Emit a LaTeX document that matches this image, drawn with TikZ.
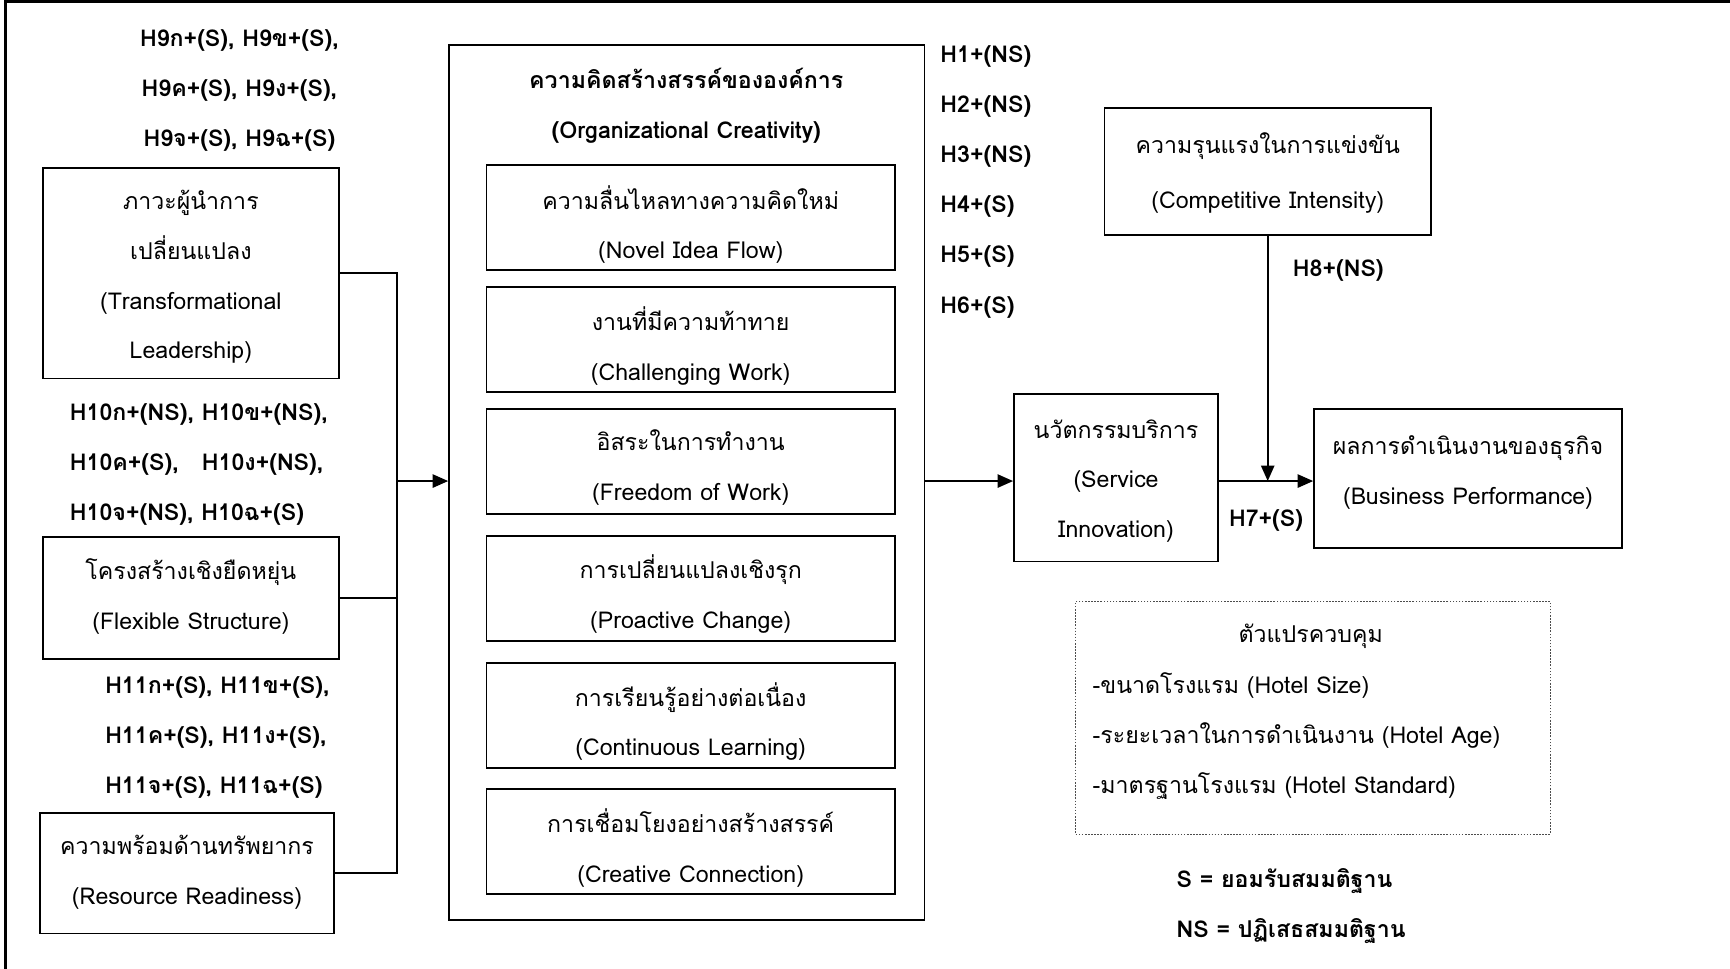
\documentclass[tikz,border=0pt]{standalone}
\usepackage{fontspec}
\setmainfont[Script=Thai]{Loma}
\usetikzlibrary{arrows.meta,calc}
\newcommand\bodyfont{\fontsize{10.5}{22.6}\selectfont}
\newcommand\hypfont{\fontsize{10.5}{22.7}\selectfont\bfseries}
\begin{document}
\begin{tikzpicture}[x=0.5pt,y=-0.5pt,
  box/.style={draw, line width=0.8pt, rectangle, inner sep=0pt},
  txt/.style={inner sep=0pt, align=center, font=\bodyfont},
  hyp/.style={inner sep=0pt, font=\hypfont},
  link/.style={line width=0.8pt},
  arr/.style={line width=0.8pt, -{Triangle[length=7pt,width=6pt]}}]
\useasboundingbox (0,0) rectangle (1568,878);
% frame
\draw[line width=1.1pt] (5,878) -- (5,1.5) -- (1568,1.5);

% antecedents
\node[box, minimum width=134pt, minimum height=95.5pt] (tl) at (173,247.5) {};
\node[txt] (tlt) at (173,251)
  {ภาวะผู้นำการ\\เปลี่ยนแปลง\\(Transformational\\Leadership)};
\node[box, minimum width=134pt, minimum height=55pt] (fs) at (173,542) {};
\node[txt] (fst) at (173,541)
  {โครงสร้างเชิงยืดหยุ่น\\(Flexible Structure)};
\node[box, minimum width=133.5pt, minimum height=54.5pt] (rr) at (169.5,791.5) {};
\node[txt] (rrt) at (169.5,790.5)
  {ความพร้อมด้านทรัพยากร\\(Resource Readiness)};

\node[hyp, align=center] (h9) at (217,82)
  {H9ก+(S), H9ข+(S),\\H9ค+(S), H9ง+(S),\\H9จ+(S), H9ฉ+(S)};
\node[hyp, align=left, anchor=west] (h10) at (63,421)
  {H10ก+(NS), H10ข+(NS),\\H10ค+(S),\quad H10ง+(NS),\\H10จ+(NS), H10ฉ+(S)};
\node[hyp, align=left, anchor=west] (h11) at (95,668.5)
  {H11ก+(S), H11ข+(S),\\H11ค+(S), H11ง+(S),\\H11จ+(S), H11ฉ+(S)};

% organizational creativity
\node[box, minimum width=215.5pt, minimum height=396.5pt] (oc) at (622.5,437.5) {};
\node[hyp, align=center] (octitle) at (622,95.5)
  {ความคิดสร้างสรรค์ขององค์การ\\(Organizational Creativity)};
\node[box, minimum width=185pt, minimum height=47.5pt] (d1) at (626,197) {};
\node[txt] (d1t) at (626,203.5) {ความลื่นไหลทางความคิดใหม่\\(Novel Idea Flow)};
\node[box, minimum width=185pt, minimum height=47.5pt] (d2) at (626,307.5) {};
\node[txt] (d2t) at (626,313.5) {งานที่มีความท้าทาย\\(Challenging Work)};
\node[box, minimum width=185pt, minimum height=47.5pt] (d3) at (626,418.5) {};
\node[txt] (d3t) at (626,424) {อิสระในการทำงาน\\(Freedom of Work)};
\node[box, minimum width=185pt, minimum height=47.5pt] (d4) at (626,533.5) {};
\node[txt] (d4t) at (626,538.5) {การเปลี่ยนแปลงเชิงรุก\\(Proactive Change)};
\node[box, minimum width=185pt, minimum height=47.5pt] (d5) at (626,648.5) {};
\node[txt] (d5t) at (626,654) {การเรียนรู้อย่างต่อเนื่อง\\(Continuous Learning)};
\node[box, minimum width=185pt, minimum height=47.5pt] (d6) at (626,762.5) {};
\node[txt] (d6t) at (626,768.5) {การเชื่อมโยงอย่างสร้างสรรค์\\(Creative Connection)};

\node[hyp, align=left, anchor=north west] (h16) at (852,41)
  {H1+(NS)\\H2+(NS)\\H3+(NS)\\H4+(S)\\H5+(S)\\H6+(S)};

% outcomes
\node[box, minimum width=92.5pt, minimum height=76pt] (si) at (1011.5,433) {};
\node[txt] (sit) at (1011.5,436) {นวัตกรรมบริการ\\(Service\\Innovation)};
\node[box, minimum width=148pt, minimum height=57.5pt] (ci) at (1149,155.5) {};
\node[txt, font=\fontsize{10.5}{25}\selectfont] (cit) at (1149,156.5)
  {ความรุนแรงในการแข่งขัน\\(Competitive Intensity)};
\node[box, minimum width=139.5pt, minimum height=63pt] (bp) at (1330.5,434) {};
\node[txt] (bpt) at (1330.5,428.5) {ผลการดำเนินงานของธุรกิจ\\(Business Performance)};
\node[hyp] (h8) at (1213,245) {H8+(NS)};
\node[hyp] (h7) at (1147.5,472) {H7+(S)};

% control variables
\node[draw=black!70, line width=0.5pt, dash pattern=on 0.7pt off 0.7pt,
  minimum width=215pt, minimum height=105.5pt, inner sep=0pt] (cv) at (1190,650.5) {};
\node[inner sep=0pt, font=\bodyfont] (cvt) at (1188,577) {ตัวแปรควบคุม};
\node[inner sep=0pt, font=\bodyfont, align=left, anchor=west] (cvl) at (990,667)
  {-ขนาดโรงแรม (Hotel Size)\\-ระยะเวลาในการดำเนินงาน (Hotel Age)\\-มาตรฐานโรงแรม (Hotel Standard)};

\node[hyp, align=left, anchor=west] (key) at (1066,821)
  {S = ยอมรับสมมติฐาน\\NS = ปฏิเสธสมมติฐาน};

% connectors
\coordinate (bus) at (360,436);
\draw[link] (tl.east) -| (bus);
\draw[link] (fs.east) -| (bus);
\draw[link] (rr.east) -| (bus);
\draw[arr] (bus) -- (bus -| oc.west);
\draw[arr] (oc.east |- bus) -- (bus -| si.west);
\coordinate (join) at (ci.south |- bus);
\draw[arr] (bus -| si.east) -- (bus -| bp.west);
\draw[arr] (ci.south) -- (join);
\end{tikzpicture}
\end{document}
